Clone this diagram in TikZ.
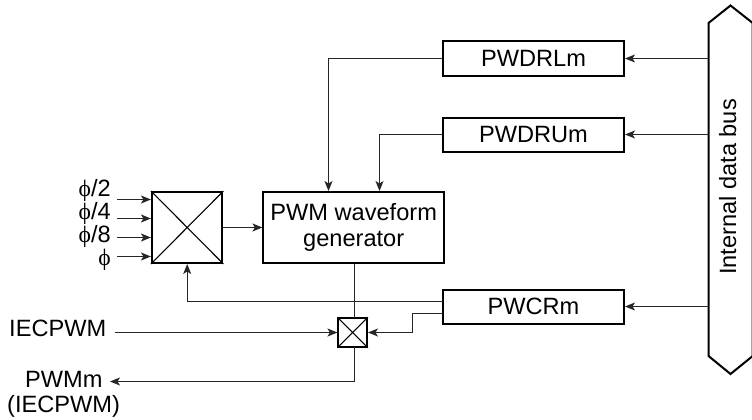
\documentclass[tikz,border=0pt]{standalone}
\usepackage{fontspec}
\setmainfont{Liberation Sans}
\newfontfamily\phifont{Liberation Serif}
\usetikzlibrary{arrows.meta,positioning}
\newcommand{\fy}{{\phifont ϕ}}
\tikzset{
  x=1pt,y=-1pt,
  reg/.style={draw=black,line width=2pt,minimum width=181pt,minimum height=34pt,inner sep=0pt,font=\fontsize{23.6}{25.6}\selectfont},
  muxbox/.style={draw=black,line width=2pt,inner sep=0pt,fill=none},
  lab/.style={inner sep=0pt,font=\fontsize{23.6}{25.6}\selectfont},
  wire/.style={draw=black!85,line width=1.1pt},
  arr/.style={wire,-{Stealth[length=10pt,width=8pt,inset=2.5pt]}}
}
\begin{document}
\begin{tikzpicture}
\useasboundingbox (0,0) rectangle (752,420);
% bus
\draw[black,line width=2pt] (708.5,23) coordinate (busTL) -- (730.5,5.5) -- (752.7,23) -- (752.7,356) -- (730.5,374) -- (708.5,356) -- cycle;
\node[lab,rotate=90,anchor=base] (buslab) at (736,187) {Internal data bus};
% registers
\node[reg] (l) at (533.5,58.5) {PWDRLm};
\node[reg] (u) at (533.5,134.5) {PWDRUm};
\node[reg] (c) at (533.5,306.5) {PWCRm};
% blocks
\node[muxbox,minimum width=70.5pt,minimum height=71pt] (m) at (187.2,227.5) {};
\draw[line width=1.1pt] (m.north west)--(m.south east) (m.north east)--(m.south west);
\node[draw=black,line width=2pt,minimum width=180.5pt,minimum height=71pt,inner sep=0pt,align=center,font=\fontsize{23.6}{25.6}\selectfont] (g) at (353.7,227.5) {PWM waveform\\generator};
\node[muxbox,minimum width=28.5pt,minimum height=28.5pt] (s) at (352.7,332.5) {};
\draw[line width=1.1pt] (s.north west)--(s.south east) (s.north east)--(s.south west);
% labels
\node[lab,anchor=east] (p2) at (111,190) {\fy/2};
\node[lab,anchor=east] (p4) at (111,213) {\fy/4};
\node[lab,anchor=east] (p8) at (111,236) {\fy/8};
\node[lab,anchor=east] (p1) at (111,260) {\fy};
\node[lab,anchor=west] (iec) at (9,328) {IECPWM};
\node[lab,anchor=west] (pwm) at (25,379) {PWMm};
\node[lab,anchor=west] (iecp) at (7,406) {(IECPWM)};
% free ends
\coordinate (i2) at (117,199.5); \coordinate (i4) at (117,218.5);
\coordinate (i8) at (117,237.5); \coordinate (i1) at (117,256.5);
\coordinate (iecs) at (115,332.5); \coordinate (pwme) at (110,381.5);
\coordinate (sb) at (354.5,347); \coordinate (st) at (354.5,318);
% connectors
\draw[arr] (i2) -- (i2 -| m.west);
\draw[arr] (i4) -- (i4 -| m.west);
\draw[arr] (i8) -- (i8 -| m.west);
\draw[arr] (i1) -- (i1 -| m.west);
\draw[arr] (m.east) -- (g.west);
\draw[arr] (708.5,58.5) -- (l.east);
\draw[arr] (708.5,134.5) -- (u.east);
\draw[arr] (708.5,306.5) -- (c.east);
\draw[arr] (l.west) -| (328.5,191);
\draw[arr] (u.west) -| (379.5,191);
\draw[wire] (g.south -| st) -- (st);
\draw[arr] (442.7,301.5) -| (m.south);
\draw[arr] (442.7,313.5) -- (412.5,313.5) -- (412.5,332.5) -- (s.east);
\draw[arr] (iecs) -- (s.west);
\draw[arr] (sb) |- (pwme);
\end{tikzpicture}
\end{document}
